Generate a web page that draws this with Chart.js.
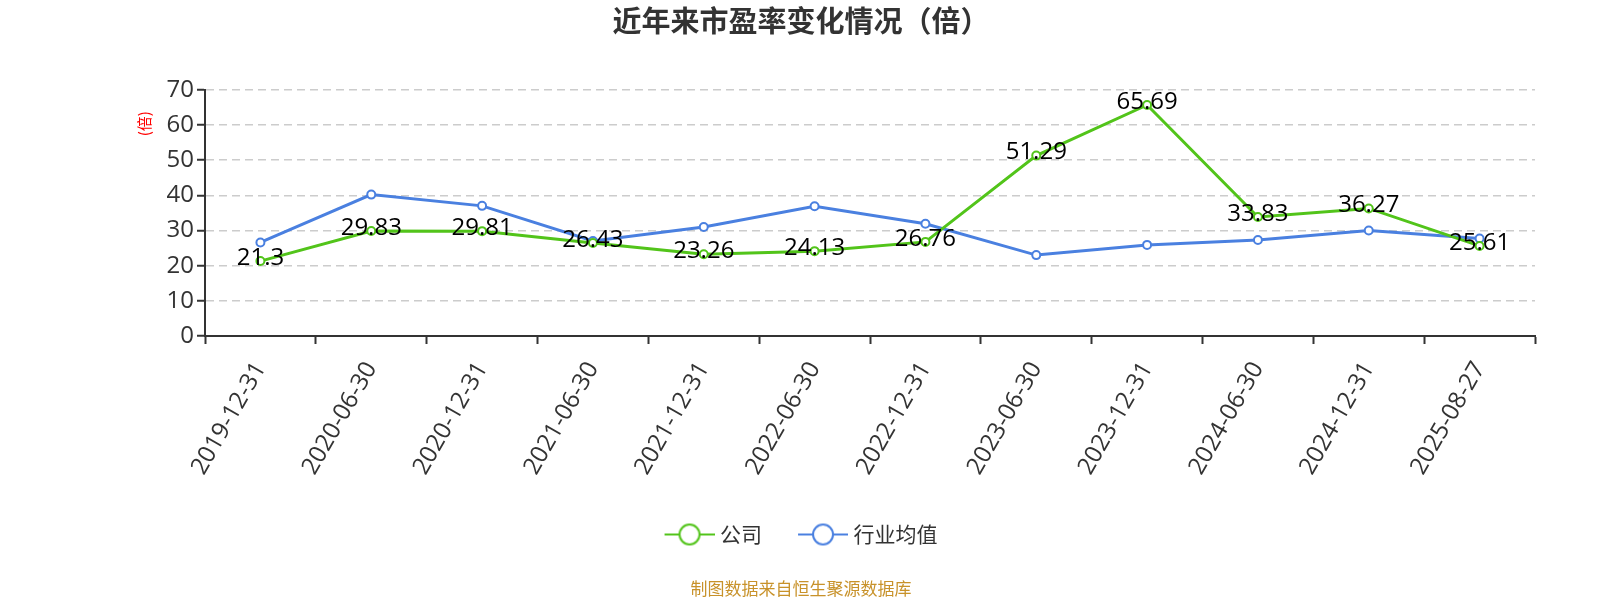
<!DOCTYPE html>
<html>
<head>
<meta charset="utf-8">
<script src="https://cdn.jsdelivr.net/npm/chart.js@4.4.0/dist/chart.umd.min.js"></script>
<style>
  body { margin: 0; background: #fff; }
  #wrap { width: 1600px; height: 600px; position: relative; }
</style>
</head>
<body>
<div id="wrap"><canvas id="peChart"></canvas></div>
<script>
// data
const dates = ['2019-12-31', '2020-06-30', '2020-12-31', '2021-06-30', '2021-12-31', '2022-06-30',
               '2022-12-31', '2023-06-30', '2023-12-31', '2024-06-30', '2024-12-31', '2025-08-27'];
const companyPE = [21.3, 29.83, 29.81, 26.43, 23.26, 24.13, 26.76, 51.29, 65.69, 33.83, 36.27, 25.61];
const industryPE = [26.6, 40.2, 37.0, 27.0, 31.0, 36.9, 31.9, 23.0, 25.9, 27.3, 30.0, 27.7];
const yTicks = [0, 10, 20, 30, 40, 50, 60, 70];

const GREEN = '#52c41a';
const BLUE = '#4a80e0';
const NUM_FONT = '"Open Sans", "Noto Sans CJK SC", sans-serif';
const CJK_FONT = '"Noto Sans CJK SC", "Noto Sans", sans-serif';

// legend marker: short line with a hollow circle, padded on the left so text sits close
function legendMarker(color) {
    const c = document.createElement('canvas');
    c.width = 55; c.height = 24;
    const g = c.getContext('2d');
    g.strokeStyle = color;
    g.lineWidth = 2;
    g.beginPath(); g.moveTo(5, 12); g.lineTo(55, 12); g.stroke();
    g.beginPath(); g.arc(30, 12, 10, 0, Math.PI * 2);
    g.fillStyle = '#fff'; g.fill(); g.stroke();
    return c;
}

// value labels on the company line + the red unit label on the y axis
const extras = {
    id: 'extras',
    afterDatasetsDraw(chart) {
        const ctx = chart.ctx;
        const meta = chart.getDatasetMeta(0);
        ctx.save();
        ctx.font = '24px ' + NUM_FONT;
        ctx.fillStyle = '#000';
        ctx.textAlign = 'center';
        ctx.textBaseline = 'middle';
        meta.data.forEach((pt, i) => {
            ctx.fillText(String(companyPE[i]), pt.x, pt.y - 3);
        });
        ctx.restore();

        const area = chart.chartArea;
        ctx.save();
        ctx.translate(area.left - 61, area.top + 34);
        ctx.rotate(-Math.PI / 2);
        ctx.font = '15px ' + CJK_FONT;
        ctx.fillStyle = '#ff0000';
        ctx.textAlign = 'center';
        ctx.textBaseline = 'middle';
        ctx.fillText('(倍)', 0, 0);
        ctx.restore();
    }
};

new Chart(document.getElementById('peChart').getContext('2d'), {
    type: 'line',
    data: {
        labels: dates,
        datasets: [{
            label: '公司',
            data: companyPE,
            borderColor: GREEN,
            borderWidth: 3,
            pointRadius: 4,
            pointBorderWidth: 2,
            pointBackgroundColor: '#fff',
            pointBorderColor: GREEN,
            tension: 0
        }, {
            label: '行业均值',
            data: industryPE,
            borderColor: BLUE,
            borderWidth: 3,
            pointRadius: 4,
            pointBorderWidth: 2,
            pointBackgroundColor: '#fff',
            pointBorderColor: BLUE,
            tension: 0
        }]
    },
    options: {
        responsive: true,
        maintainAspectRatio: false,
        animation: false,
        layout: { padding: { left: 67, right: 65, top: 0, bottom: 0 } },
        scales: {
            x: {
                offset: true,
                afterFit(scale) { scale.height = 152; },
                grid: { offset: true, drawOnChartArea: false, drawTicks: true, tickLength: 8, tickColor: '#333', tickWidth: 2 },
                border: { color: '#333', width: 2 },
                ticks: {
                    color: '#333',
                    font: { size: 24, family: NUM_FONT },
                    minRotation: 60,
                    maxRotation: 60,
                    padding: 13,
                    autoSkip: false
                }
            },
            y: {
                min: 0,
                max: 70,
                afterFit(scale) { scale.width = 138; },
                afterBuildTicks(scale) { scale.ticks = yTicks.map(v => ({ value: v })); },
                grid: { color: '#cccccc', lineWidth: 1.5, tickColor: '#333', tickWidth: 2, tickLength: 8, tickBorderDash: [] },
                border: { color: '#333', width: 2, dash: [8, 5] },
                ticks: { color: '#333', font: { size: 24, family: NUM_FONT }, padding: 3 }
            }
        },
        plugins: {
            title: {
                display: true,
                text: '近年来市盈率变化情况（倍）',
                color: '#333',
                font: { size: 29, weight: 'bold', family: CJK_FONT },
                padding: { top: 4, bottom: 51 }
            },
            subtitle: {
                display: true,
                position: 'bottom',
                text: '制图数据来自恒生聚源数据库',
                color: '#c8922a',
                font: { size: 17, family: CJK_FONT, lineHeight: 1 },
                padding: { top: 25, bottom: 3 }
            },
            legend: {
                position: 'bottom',
                labels: {
                    usePointStyle: true,
                    pointStyleWidth: 45,
                    color: '#333',
                    font: { size: 21, family: CJK_FONT },
                    padding: 36,
                    generateLabels(chart) {
                        return chart.data.datasets.map((ds, i) => ({
                            text: ds.label,
                            pointStyle: legendMarker(ds.borderColor),
                            fillStyle: '#fff',
                            strokeStyle: ds.borderColor,
                            lineWidth: 0,
                            fontColor: '#333',
                            hidden: false,
                            datasetIndex: i
                        }));
                    }
                }
            },
            tooltip: { enabled: false }
        }
    },
    plugins: [extras]
});
</script>
</body>
</html>
